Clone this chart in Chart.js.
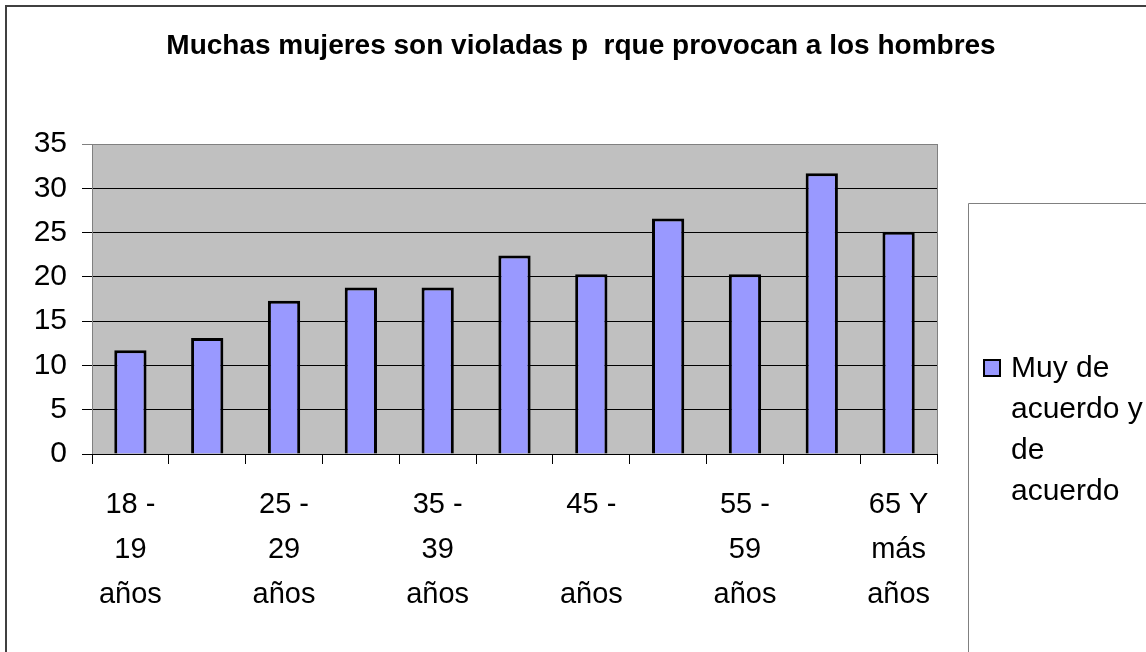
<!DOCTYPE html>
<html lang="es">
<head>
  <meta charset="UTF-8" />
  <title>Muchas mujeres son violadas porque provocan a los hombres</title>
  <script src="https://cdn.jsdelivr.net/npm/chart.js"></script>
  <style>
    html, body { margin: 0; padding: 0; background: #fff; }
    .grafico { width: 1146px; height: 652px; }
  </style>
</head>
<body>
  <div class="grafico">
    <canvas id="graficoBarras" width="1146" height="652"></canvas>
  </div>

  <script>
    // datos
    const titulo = "Muchas mujeres son violadas p  rque provocan a los hombres";
    const categorias = [
      ["18 -", "19", "años"],
      ["20 -", "24", "años"],
      ["25 -", "29", "años"],
      ["30 -", "34", "años"],
      ["35 -", "39", "años"],
      ["40 -", "44", "años"],
      ["45 -", "", "años"],
      ["50 -", "54", "años"],
      ["55 -", "59", "años"],
      ["60 -", "64", "años"],
      ["65 Y", "más", "años"]
    ];
    const serieNombre = "Muy de acuerdo y de acuerdo";
    const valores = [11.7, 13.1, 17.3, 18.8, 18.8, 22.4, 20.3, 26.6, 20.3, 31.7, 25.1];
    const ejeYMin = 0;
    const ejeYMax = 35;
    const ejeYPaso = 5;

    const fuente = "'Liberation Sans', Arial, sans-serif";
    const colorBarra = "#9999FF";

    // fondo gris del area de trazado, marco, titulo y leyenda al estilo Excel
    const estiloExcel = {
      id: "estiloExcel",
      beforeDraw(chart) {
        const { ctx, chartArea: a } = chart;
        ctx.save();
        ctx.fillStyle = "#ffffff";
        ctx.fillRect(0, 0, chart.width, chart.height);
        ctx.fillStyle = "#C0C0C0";
        ctx.fillRect(a.left, a.top, a.right - a.left, a.bottom - a.top);
        ctx.restore();
      },
      afterDraw(chart) {
        const { ctx, chartArea: a } = chart;
        ctx.save();

        // borde derecho del area de trazado
        ctx.strokeStyle = "#808080";
        ctx.lineWidth = 1;
        ctx.beginPath();
        ctx.moveTo(Math.round(a.right) + 0.5, a.top);
        ctx.lineTo(Math.round(a.right) + 0.5, a.bottom);
        ctx.stroke();

        // marco exterior
        ctx.strokeStyle = "#404040";
        ctx.lineWidth = 2;
        ctx.beginPath();
        ctx.moveTo(6, chart.height);
        ctx.lineTo(6, 6);
        ctx.lineTo(chart.width, 6);
        ctx.stroke();

        // titulo
        ctx.fillStyle = "#000";
        ctx.font = "bold 28px " + fuente;
        ctx.textAlign = "center";
        ctx.textBaseline = "alphabetic";
        ctx.fillText(titulo, 581, 54);

        // leyenda
        const cajaX = 968, cajaY = 203;
        ctx.strokeStyle = "#808080";
        ctx.lineWidth = 1;
        ctx.beginPath();
        ctx.moveTo(cajaX + 0.5, chart.height);
        ctx.lineTo(cajaX + 0.5, cajaY + 0.5);
        ctx.lineTo(chart.width, cajaY + 0.5);
        ctx.stroke();

        const ds = chart.data.datasets[0];
        ctx.fillStyle = ds.backgroundColor;
        ctx.fillRect(984, 360, 16, 16);
        ctx.strokeStyle = "#000";
        ctx.lineWidth = 2;
        ctx.strokeRect(984, 360, 16, 16);

        ctx.font = "30px " + fuente;
        ctx.textAlign = "left";
        ctx.fillStyle = "#000";
        const palabras = ds.label.split(" ");
        const lineas = [];
        let linea = "";
        palabras.forEach(p => {
          const prueba = linea ? linea + " " + p : p;
          if (linea && ctx.measureText(prueba).width > 135) {
            lineas.push(linea);
            linea = p;
          } else {
            linea = prueba;
          }
        });
        if (linea) lineas.push(linea);
        lineas.forEach((l, i) => ctx.fillText(l, 1011, 377 + i * 41));

        ctx.restore();
      }
    };

    const ctxGrafico = document.getElementById("graficoBarras").getContext("2d");

    new Chart(ctxGrafico, {
      type: "bar",
      data: {
        labels: categorias,
        datasets: [{
          label: serieNombre,
          data: valores,
          backgroundColor: colorBarra,
          borderColor: "#000000",
          borderWidth: 3,
          categoryPercentage: 1,
          barPercentage: 0.42,
        }],
      },
      options: {
        responsive: false,
        animation: false,
        layout: {
          padding: { left: 0, top: 144, right: 209, bottom: 0 },
        },
        scales: {
          y: {
            min: ejeYMin,
            max: ejeYMax,
            afterFit: scale => { scale.width = 92; },
            border: { color: "#808080", width: 1 },
            grid: {
              color: c => (c.tick && c.tick.value === ejeYMax ? "#808080" : "#000000"),
              lineWidth: 1,
              tickLength: 10,
            },
            ticks: {
              stepSize: ejeYPaso,
              color: "#000",
              padding: 15,
              font: { family: fuente, size: 30 },
            },
          },
          x: {
            afterFit: scale => { scale.height = 198; },
            border: { color: "#000000", width: 1 },
            grid: {
              offset: true,
              drawOnChartArea: false,
              color: "#000000",
              tickLength: 10,
            },
            ticks: {
              autoSkip: false,
              maxRotation: 0,
              minRotation: 0,
              color: "#000",
              padding: 18,
              font: { family: fuente, size: 29, lineHeight: "45px" },
              callback: function (valor, indice) {
                return indice % 2 === 0 ? this.getLabelForValue(valor) : "";
              },
            },
          },
        },
        plugins: {
          legend: { display: false },
          title: { display: false },
          tooltip: { enabled: false },
        },
      },
      plugins: [estiloExcel],
    });
  </script>
</body>
</html>
